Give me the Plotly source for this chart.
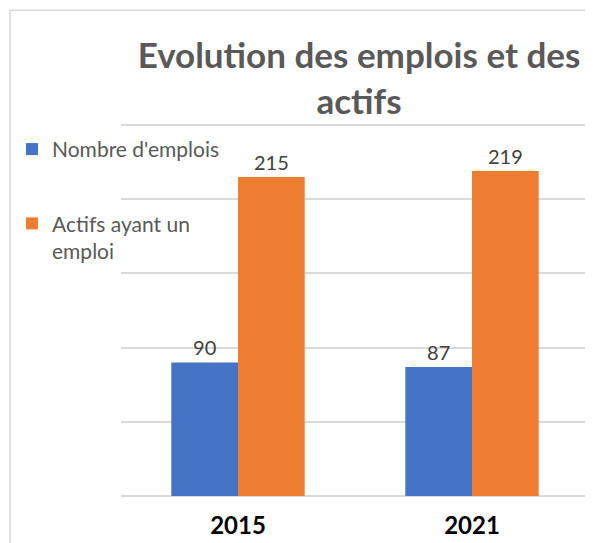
import plotly.graph_objects as go

years = ["2015", "2021"]
nb_emplois = [90, 87]
actifs_emploi = [215, 219]

BLUE = "#4472c4"
ORANGE = "#ed7d31"
FONT = "Lato, Open Sans, sans-serif"

# the page body adds an 8px offset, so work in screen pixels minus 8
OFF = 8
W, H = 593 - OFF, 543 - OFF
L, R, T, B = 121 - OFF, 4, 125 - OFF - 3, 43 - 3
pw, ph = W - L - R, H - T - B


def px_x(x):
    return (x - OFF - L) / pw


def px_y(y):
    return (H - B - (y - OFF)) / ph


fig = go.Figure()
fig.add_trace(go.Bar(
    x=years, y=nb_emplois, name="Nombre d'emplois", legendgroup="a",
    marker=dict(color=BLUE, line=dict(width=0)),
    texttemplate="%{y}", textposition="outside",
    textfont=dict(size=20, color="#404040"), cliponaxis=False,
))
fig.add_trace(go.Bar(
    x=years, y=actifs_emploi, name="Actifs ayant un<br>emploi", legendgroup="b",
    marker=dict(color=ORANGE, line=dict(width=0)),
    texttemplate="%{y}", textposition="outside",
    textfont=dict(size=20, color="#404040"), cliponaxis=False,
))

fig.update_layout(
    width=W, height=H,
    margin=dict(l=L, r=R, t=T, b=B),
    paper_bgcolor="white", plot_bgcolor="white",
    font=dict(family=FONT, color="#595959"),
    barmode="group", bargap=0.43, bargroupgap=0,
    title=dict(
        text="Evolution des emplois et des<br>actifs",
        x=(359 - OFF) / W, xanchor="center", xref="container",
        y=1 - (68 - OFF) / H, yanchor="top", yref="container",
        font=dict(size=35, color="#595959", weight="bold", family=FONT),
    ),
    legend=dict(
        x=px_x(12), y=px_y(129), xanchor="left", yanchor="top",
        font=dict(size=21, color="#595959"), bgcolor="rgba(0,0,0,0)",
        tracegroupgap=44, valign="top",
    ),
    showlegend=True,
)
fig.update_xaxes(
    type="category", showgrid=False, showline=False, ticks="",
    tickfont=dict(size=24, color="black", weight="bold"),
    ticklabelstandoff=10,
)
fig.update_yaxes(
    range=[-2, 252], dtick=50, showticklabels=False, ticks="",
    showgrid=True, gridcolor="#d9d9d9", gridwidth=1.5, zeroline=False,
)

# chart frame (top and left edges visible)
fig.add_shape(type="line", xref="paper", yref="paper",
              x0=px_x(9), x1=px_x(591), y0=px_y(9), y1=px_y(9),
              line=dict(color="#d9d9d9", width=1.5))
fig.add_shape(type="line", xref="paper", yref="paper",
              x0=px_x(10), x1=px_x(10), y0=px_y(9), y1=px_y(560),
              line=dict(color="#d9d9d9", width=1.5))

fig.write_html("out.html")
